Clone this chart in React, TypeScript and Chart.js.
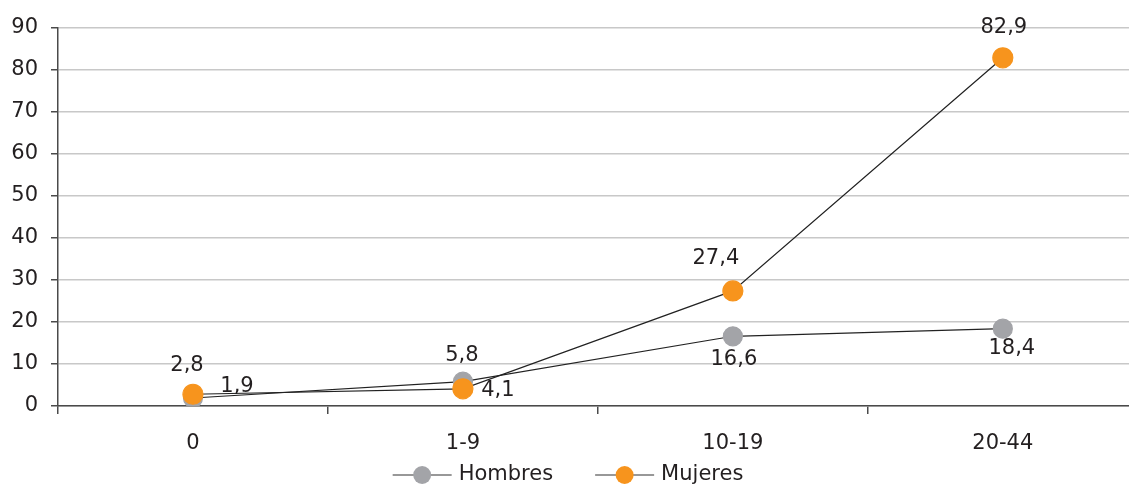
import React, { useEffect, useRef } from 'react';
import { Chart, registerables } from 'chart.js';

Chart.register(...registerables);

// ---- data ----
const categories = ['0', '1-9', '10-19', '20-44'];
const hombres = [1.9, 5.8, 16.6, 18.4];
const mujeres = [2.8, 4.1, 27.4, 82.9];
const seriesNames = ['Hombres', 'Mujeres'];
const yMin = 0;
const yMax = 90;
const yStep = 10;

// ---- styles ----
const FONT = '"DejaVu Sans", sans-serif';
const TEXT = '#231f20';
const GRAY = '#a3a4a8';
const ORANGE = '#f7941d';
const AXIS = '#4a4a4a';
const GRID = '#c8c8c8';
const FONT_SIZE = 21;
const CANVAS_W = 1149;

// value-label offsets in px relative to each point (styling, not data)
const hombresLabelOffsets = [[44, -11], [-1, -26], [1, 23], [9, 20]];
const mujeresLabelOffsets = [[-6, -29], [35, 2], [-17, -32], [1, -30]];

const fmt = (v: number) => v.toFixed(1).replace('.', ',');

const valueLabelPlugin = {
  id: 'valueLabels',
  afterDatasetsDraw(chart: any) {
    const ctx = chart.ctx;
    ctx.save();
    ctx.font = `${FONT_SIZE}px ${FONT}`;
    ctx.fillStyle = TEXT;
    ctx.textAlign = 'center';
    ctx.textBaseline = 'middle';
    chart.data.datasets.forEach((ds: any, i: number) => {
      const meta = chart.getDatasetMeta(i);
      meta.data.forEach((pt: any, j: number) => {
        const [dx, dy] = ds.labelOffsets[j];
        ctx.fillText(fmt(ds.data[j]), pt.x + dx, pt.y + dy);
      });
    });
    ctx.restore();
  },
};

const legendPlugin = {
  id: 'customLegend',
  afterDraw(chart: any) {
    const ctx = chart.ctx;
    ctx.save();
    ctx.font = `${FONT_SIZE}px ${FONT}`;
    const lineLen = 59;
    const textGap = 7;
    const itemGap = 42;
    const y = 475;
    const items = chart.data.datasets.slice().sort((a: any, b: any) => a.legendIndex - b.legendIndex);
    const widths = items.map((ds: any) => lineLen + textGap + ctx.measureText(ds.label).width);
    const total = widths.reduce((s: number, w: number) => s + w, 0) + itemGap * (items.length - 1);
    let x = 568 - total / 2;
    items.forEach((ds: any, i: number) => {
      ctx.strokeStyle = '#333333';
      ctx.lineWidth = 1.2;
      ctx.beginPath();
      ctx.moveTo(x, y);
      ctx.lineTo(x + lineLen, y);
      ctx.stroke();
      ctx.fillStyle = ds.pointBackgroundColor;
      ctx.beginPath();
      ctx.arc(x + lineLen / 2, y, 9, 0, Math.PI * 2);
      ctx.fill();
      ctx.fillStyle = TEXT;
      ctx.textAlign = 'left';
      ctx.textBaseline = 'middle';
      ctx.fillText(ds.label, x + lineLen + textGap, y);
      x += widths[i] + itemGap;
    });
    ctx.restore();
  },
};

export default function App() {
  const ref = useRef<HTMLCanvasElement | null>(null);

  useEffect(() => {
    if (!ref.current) return;
    const chart = new Chart(ref.current, {
      type: 'line',
      data: {
        labels: categories,
        datasets: [
          {
            label: seriesNames[0],
            data: hombres,
            borderColor: '#222222',
            borderWidth: 1.2,
            pointBackgroundColor: GRAY,
            pointBorderColor: GRAY,
            pointRadius: 9.5,
            pointHoverRadius: 9.5,
            tension: 0,
            order: 1,
            labelOffsets: hombresLabelOffsets,
            legendIndex: 0,
          } as any,
          {
            label: seriesNames[1],
            data: mujeres,
            borderColor: '#222222',
            borderWidth: 1.2,
            pointBackgroundColor: ORANGE,
            pointBorderColor: ORANGE,
            pointRadius: 10,
            pointHoverRadius: 10,
            tension: 0,
            order: 0,
            labelOffsets: mujeresLabelOffsets,
            legendIndex: 1,
          } as any,
        ],
      },
      options: {
        responsive: false,
        animation: false,
        layout: { padding: { top: 28, right: 3, left: 0, bottom: 0 } },
        plugins: {
          legend: { display: false },
          tooltip: { enabled: false },
        },
        scales: {
          x: {
            type: 'category',
            offset: true,
            border: { display: true, color: AXIS, width: 1.5 },
            grid: {
              display: true,
              offset: true,
              drawOnChartArea: false,
              drawTicks: true,
              tickLength: 8,
              tickColor: AXIS,
              lineWidth: 1.5,
            },
            ticks: {
              color: TEXT,
              font: { family: FONT, size: FONT_SIZE },
              padding: 17,
              maxRotation: 0,
            },
            afterFit: (scale: any) => {
              scale.height = 80;
            },
          },
          y: {
            min: yMin,
            max: yMax,
            border: { display: true, color: AXIS, width: 1.5 },
            grid: {
              color: GRID,
              lineWidth: 1.5,
              drawTicks: true,
              tickLength: 7,
              tickColor: AXIS,
            },
            ticks: {
              stepSize: yStep,
              color: TEXT,
              font: { family: FONT, size: FONT_SIZE },
              padding: 13,
            },
            afterFit: (scale: any) => {
              scale.width = 58;
            },
          },
        },
      },
      plugins: [valueLabelPlugin, legendPlugin],
    });
    return () => chart.destroy();
  }, []);

  return (
    <div style={{ position: 'fixed', left: 0, top: 0, width: CANVAS_W, height: 486, background: '#ffffff' }}>
      <canvas ref={ref} width={CANVAS_W} height={486} style={{ width: CANVAS_W, height: 486, display: 'block' }} />
    </div>
  );
}
